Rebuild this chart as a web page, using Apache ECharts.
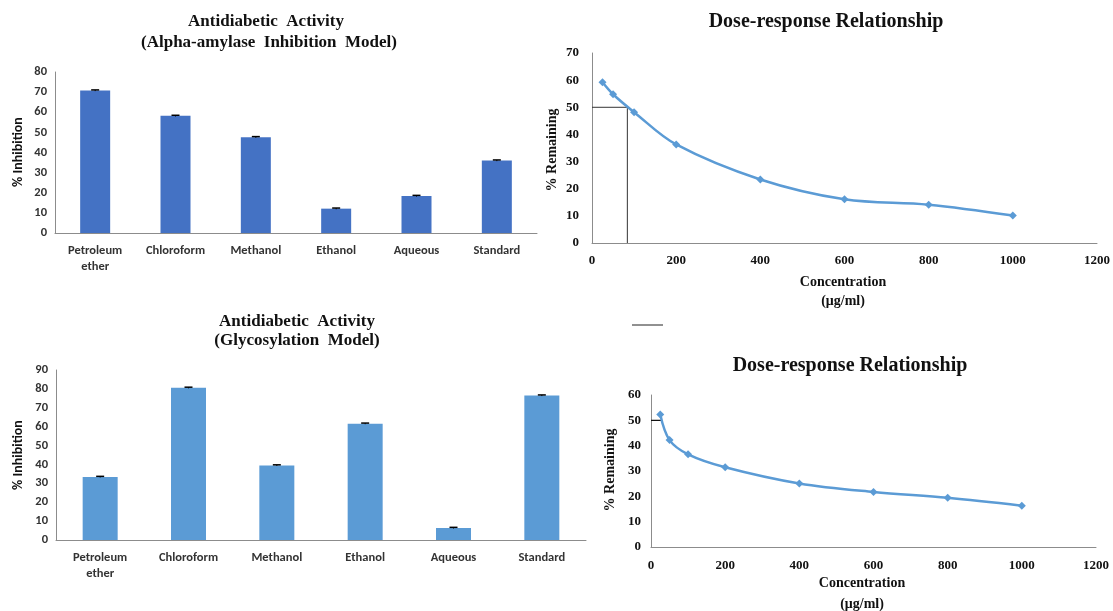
<!DOCTYPE html>
<html>
<head>
<meta charset="utf-8">
<script src="https://cdn.jsdelivr.net/npm/echarts@6/dist/echarts.min.js"></script>
<style>html,body{margin:0;padding:0;background:#fff}#c{width:1113px;height:611px}</style>
</head>
<body>
<div id="c"></div>
<script>
// ---- data ----
const categories = ['Petroleum\nether', 'Chloroform', 'Methanol', 'Ethanol', 'Aqueous', 'Standard'];
const alphaValues = [70.8, 58.2, 47.6, 12.1, 18.4, 36.0];
const alphaErrors = [0.3, 0.3, 0.3, 0.3, 0.3, 0.3];
const glycoValues = [33.4, 80.6, 39.5, 61.6, 6.4, 76.5];
const glycoErrors = [0.3, 0.3, 0.3, 0.3, 0.3, 0.3];
const dose1 = [[25, 59.2], [50, 54.8], [100, 48.2], [200, 36.3], [400, 23.4], [600, 16.1], [800, 14.1], [1000, 10.1]];
const dose1Ref = [[0, 50], [84, 50], [84, 0]];
const dose2 = [[25, 52.3], [50, 42.2], [100, 36.6], [200, 31.5], [400, 25.1], [600, 21.7], [800, 19.4], [1000, 16.3]];
const dose2Ref = [[0, 50], [28, 50]];

const SANS = 'Carlito, "Liberation Sans", Arial, sans-serif';
const SERIF = '"Liberation Serif", "Times New Roman", serif';
const axisGrey = '#8c8c8c';

function errSeries(xi, yi, vals, errs) {
  return {
    type: 'custom', xAxisIndex: xi, yAxisIndex: yi, silent: true, z: 5,
    data: vals.map((v, i) => [i, v - errs[i], v + errs[i]]),
    renderItem: function (params, api) {
      const lo = api.coord([api.value(0), api.value(1)]);
      const hi = api.coord([api.value(0), api.value(2)]);
      const w = 8;
      return { type: 'group', children: [
        { type: 'line', shape: { x1: hi[0], y1: hi[1], x2: lo[0], y2: lo[1] }, style: { stroke: '#000', lineWidth: 1 } },
        { type: 'line', shape: { x1: hi[0] - w / 2, y1: hi[1], x2: hi[0] + w / 2, y2: hi[1] }, style: { stroke: '#000', lineWidth: 1.5 } }
      ]};
    }
  };
}

function catAxis(gi) {
  return {
    type: 'category', gridIndex: gi, data: categories,
    axisLine: { lineStyle: { color: axisGrey, width: 1 } },
    axisTick: { show: false },
    axisLabel: { color: '#333', fontFamily: SANS, fontSize: 12.5, fontWeight: 'bold', margin: 10, lineHeight: 16, interval: 0 }
  };
}
function barValAxis(gi, max) {
  return {
    type: 'value', gridIndex: gi, min: 0, max: max, interval: 10,
    splitLine: { show: false },
    axisLine: { show: true, lineStyle: { color: axisGrey, width: 1 } },
    axisTick: { show: false },
    axisLabel: { color: '#333', fontFamily: SANS, fontSize: 12.5, fontWeight: 'bold', margin: 8 }
  };
}
function doseXAxis(gi, margin) {
  return {
    type: 'value', gridIndex: gi, min: 0, max: 1200, interval: 200,
    splitLine: { show: false },
    axisLine: { show: true, lineStyle: { color: axisGrey, width: 1 } },
    axisTick: { show: false },
    axisLabel: { color: '#111', fontFamily: SERIF, fontSize: 13, fontWeight: 'bold', margin: margin,
      formatter: function (v) { return String(v); } }
  };
}
function doseYAxis(gi, max, margin) {
  return {
    type: 'value', gridIndex: gi, min: 0, max: max, interval: 10,
    splitLine: { show: false },
    axisLine: { show: true, lineStyle: { color: axisGrey, width: 1 } },
    axisTick: { show: false },
    axisLabel: { color: '#111', fontFamily: SERIF, fontSize: 13, fontWeight: 'bold', margin: margin }
  };
}

function txt(text, x, y, font, rot) {
  return { type: 'text', x: x, y: y, rotation: rot || 0, silent: true,
    style: { text: text, font: font, fill: '#111', align: 'center', verticalAlign: 'middle' } };
}

const chart = echarts.init(document.getElementById('c'), null, { renderer: 'canvas' });
chart.setOption({
  animation: false,
  backgroundColor: '#fff',
  grid: [
    { left: 55, top: 72, width: 482, height: 161 },
    { left: 592, top: 53, width: 511, height: 190 },
    { left: 56, top: 370, width: 530, height: 170 },
    { left: 651, top: 395, width: 445, height: 152 }
  ],
  xAxis: [catAxis(0), doseXAxis(1, 11), catAxis(2), doseXAxis(3, 12)],
  yAxis: [barValAxis(0, 80), doseYAxis(1, 70, 13), barValAxis(2, 90), doseYAxis(3, 60, 10)],
  series: [
    { type: 'bar', xAxisIndex: 0, yAxisIndex: 0, data: alphaValues, barWidth: 30, itemStyle: { color: '#4472c4' } },
    errSeries(0, 0, alphaValues, alphaErrors),
    { type: 'bar', xAxisIndex: 2, yAxisIndex: 2, data: glycoValues, barWidth: 35, itemStyle: { color: '#5b9bd5' } },
    errSeries(2, 2, glycoValues, glycoErrors),
    { type: 'line', xAxisIndex: 1, yAxisIndex: 1, data: dose1, smooth: 0.35,
      symbol: 'diamond', symbolSize: 8, lineStyle: { color: '#5b9bd5', width: 2.5 }, itemStyle: { color: '#5b9bd5' } },
    { type: 'line', xAxisIndex: 1, yAxisIndex: 1, data: dose1Ref, symbol: 'none', z: 1,
      lineStyle: { color: '#333', width: 1 } },
    { type: 'line', xAxisIndex: 3, yAxisIndex: 3, data: dose2, smooth: 0.35,
      symbol: 'diamond', symbolSize: 8, lineStyle: { color: '#5b9bd5', width: 2.5 }, itemStyle: { color: '#5b9bd5' } },
    { type: 'line', xAxisIndex: 3, yAxisIndex: 3, data: dose2Ref, symbol: 'none', z: 1,
      lineStyle: { color: '#111', width: 1.2 } }
  ],
  graphic: [
    txt('Antidiabetic  Activity', 266, 22, 'bold 17px ' + SERIF),
    txt('(Alpha-amylase  Inhibition  Model)', 269, 43, 'bold 17px ' + SERIF),
    txt('Antidiabetic  Activity', 297, 322, 'bold 17px ' + SERIF),
    txt('(Glycosylation  Model)', 297, 341, 'bold 17px ' + SERIF),
    txt('Dose-response Relationship', 826, 22, 'bold 20px ' + SERIF),
    txt('Dose-response Relationship', 850, 366, 'bold 20px ' + SERIF),
    txt('% Inhibition', 18, 152, 'bold 14px ' + SANS, Math.PI / 2),
    txt('% Inhibition', 18, 455, 'bold 14px ' + SANS, Math.PI / 2),
    txt('% Remaining', 552, 150, 'bold 14px ' + SERIF, Math.PI / 2),
    txt('% Remaining', 610, 470, 'bold 14px ' + SERIF, Math.PI / 2),
    txt('Concentration', 843, 282, 'bold 14px ' + SERIF),
    txt('(\u03bcg/ml)', 843, 301, 'bold 14px ' + SERIF),
    txt('Concentration', 862, 583, 'bold 14px ' + SERIF),
    txt('(\u03bcg/ml)', 862, 604, 'bold 14px ' + SERIF),
    { type: 'line', silent: true, shape: { x1: 632, y1: 325, x2: 663, y2: 325 }, style: { stroke: '#222', lineWidth: 1 } }
  ]
});
</script>
</body>
</html>
